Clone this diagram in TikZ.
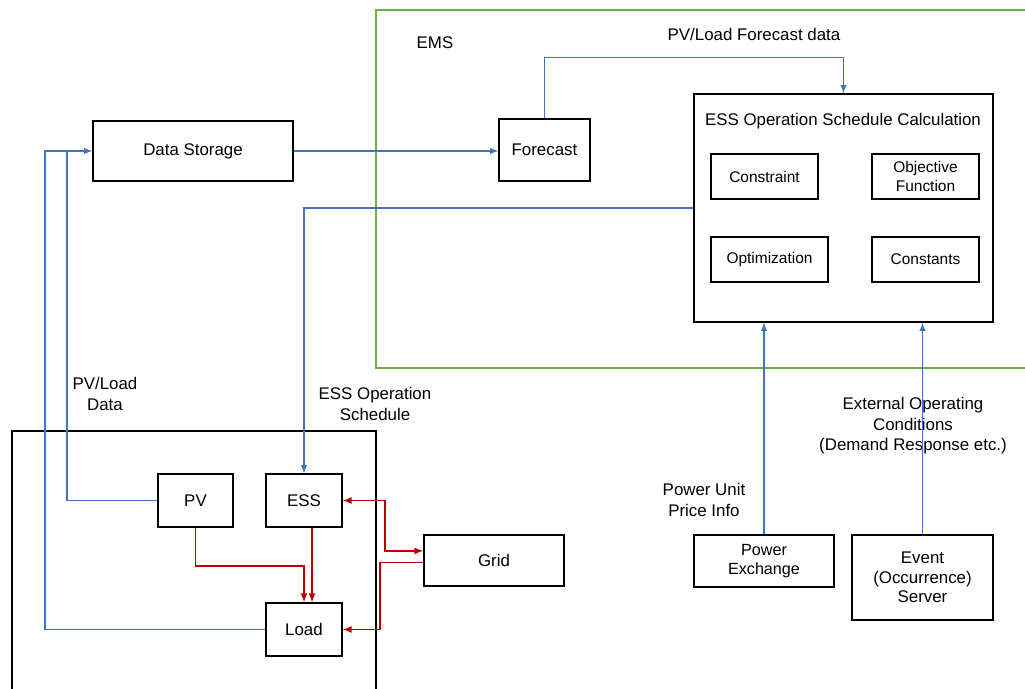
\documentclass[tikz,border=0pt]{standalone}
\usepackage{fontspec}
\setmainfont{Liberation Sans}
\usetikzlibrary{arrows}

\definecolor{lineblue}{RGB}{68,114,196}
\definecolor{linered}{RGB}{192,0,0}
\definecolor{emsgreen}{RGB}{112,173,71}

\tikzset{
	box/.style 2 args={draw, line width=1pt, minimum width=#1*0.025cm, minimum height=#2*0.025cm, inner sep=1pt, align=center, font=\fontsize{12}{14}\selectfont},
	small/.style={font=\fontsize{11}{13.5}\selectfont},
	lbl/.style={align=center, font=\fontsize{12}{14.5}\selectfont},
	info/.style={lineblue, line width=1pt},
	power/.style={linered, line width=1.2pt},
}

\begin{document}
\begin{tikzpicture}[x=0.025cm, y=-0.025cm]
		\useasboundingbox (0,0) rectangle (1025,689);
		
		% frames
		\draw[emsgreen, line width=1.1pt] (1025,10) -| (376,368) -- (1025,368);
		\draw[line width=1pt] (12,689) |- (376,431) -- (376,689);
		\node[lbl] (ems) at (435,43) {EMS};
		
		% nodes
		\node[box={200}{60}] (store) at (193,151) {Data Storage};
		\node[box={91}{62}] (fcst) at (544.5,150) {Forecast};
		\node[box={299}{228}] (calc) at (843.5,208) {};
		\node[lbl] (calctitle) at (843,121) {ESS Operation Schedule Calculation};
		\node[box={107}{45}, small] (cons) at (764.5,176.5) {Constraint};
		\node[box={107}{45}, small] (obj) at (925.5,176.5) {Objective\\Function};
		\node[box={117}{45}, small] (opt) at (769.5,259.5) {Optimization};
		\node[box={107}{45}, small] (cst) at (925.5,259.5) {Constants};
		\node[box={75}{53}] (pv) at (195.5,500.5) {PV};
		\node[box={76}{53}] (ess) at (304,500.5) {ESS};
		\node[box={76}{53}] (load) at (304,629.5) {Load};
		\node[box={140}{51}] (grid) at (494,560.5) {Grid};
		\node[box={140}{52}, font=\fontsize{11.5}{14}\selectfont] (pex) at (764,561) {Power\\Exchange};
		\node[box={141}{85}] (evt) at (922.5,577.5) {Event\\(Occurrence)\\Server};
		
		% labels
		\node[lbl] (fcdata) at (754,34) {PV/Load Forecast data};
		\node[lbl] (pvdata) at (105,394) {PV/Load\\Data};
		\node[lbl] (essdata) at (375,404) {ESS Operation\\Schedule};
		\node[lbl] (price) at (704,500) {Power Unit\\Price Info};
		\node[lbl] (ext) at (913,426) {External Operating\\Conditions\\(Demand Response etc.)};
		
		% data flow
		\coordinate (jn) at (67,151);
		\coordinate (lft) at (45,151);
		\draw[info, -latex] (store.east) -- (store.east -| fcst.west);
		\draw[info, -latex] (fcst.north) -- ++(0,-61) -| (calc.north);
		\draw[info, -latex] (calc.west) -| (ess.north);
		\draw[info] (pv.west) -| (jn);
		\draw[info, -latex] (load.west) -| (lft) -- (store.west);
		\draw[info, -latex] (pex.north) -- (pex.north |- calc.south);
		\draw[info, -latex] (evt.north) -- (evt.north |- calc.south);
		
		% power flow
		\draw[power, -latex] (pv.south) -- ++(0,38) -| (load.north);
		\draw[power, -latex] ([xshift=0.2cm]ess.south) -- ([xshift=0.2cm]load.north);
		\draw[power, latex-latex] (ess.east) -- ++(42,0) |- ([yshift=0.24cm]grid.west);
		\draw[power, -latex] ([yshift=-0.05cm]grid.west) -- ++(-43,0) |- (load.east);
	\end{tikzpicture}
\end{document}
